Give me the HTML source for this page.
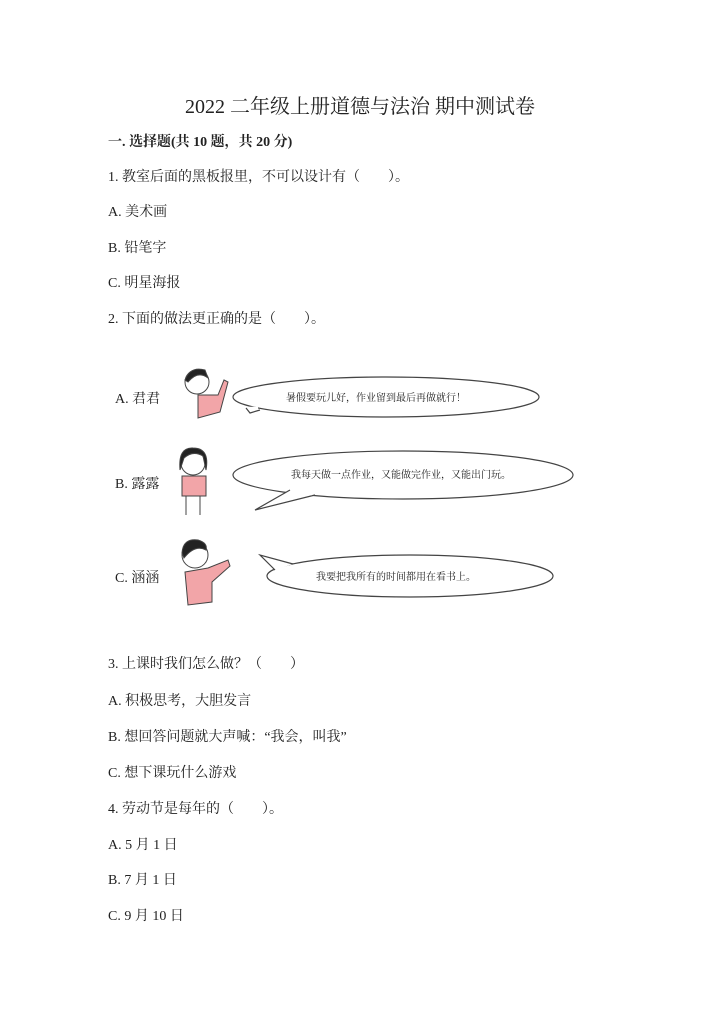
<!DOCTYPE html>
<html><head><meta charset="utf-8"><style>
body{margin:0;background:#fff;}
.p{position:relative;width:720px;height:1018px;font-family:"Liberation Serif","Noto Serif CJK SC",serif;color:#222;}
.t{position:absolute;left:108px;font-size:14px;line-height:16px;white-space:nowrap;}
.h{position:absolute;left:0;width:720px;text-align:center;top:90px;font-size:20px;font-weight:normal;}
</style></head><body><div class="p">
<div class="h">2022 二年级上册道德与法治 期中测试卷</div>
<div class="t" style="top:135px;font-weight:bold;">一. 选择题(共 10 题，共 20 分)</div>
<div class="t" style="top:170px">1. 教室后面的黑板报里，不可以设计有（　　）。</div>
<div class="t" style="top:205px">A. 美术画</div>
<div class="t" style="top:241px">B. 铅笔字</div>
<div class="t" style="top:276px">C. 明星海报</div>
<div class="t" style="top:312px">2. 下面的做法更正确的是（　　）。</div>
<svg style="position:absolute;left:100px;top:350px" width="500" height="280" viewBox="0 0 500 280">
<g font-family="Liberation Serif,Noto Serif CJK SC,serif" fill="#222">
<text x="15" y="53" font-size="14">A. 君君</text>
<text x="15" y="138" font-size="14">B. 露露</text>
<text x="15" y="232" font-size="14">C. 涵涵</text>
</g>
<g stroke="#444" stroke-width="1.2" fill="#fff">
<ellipse cx="286" cy="47" rx="153" ry="20"/>
<path d="M146 58 L 150 63 L 160 60" />
<ellipse cx="303" cy="125" rx="170" ry="24"/>
<path d="M190 140 L 155 160 L 215 145" />
<ellipse cx="310" cy="226" rx="143" ry="21"/>
<path d="M193 214 L 160 205 L 175 220" />
</g>
<g stroke="#fff" stroke-width="2.5" fill="none">
<path d="M149 58 L 158 58"/>
<path d="M193 140 L 212 144"/>
<path d="M170 211 L 180 217"/>
</g>
<g font-family="Liberation Serif,Noto Serif CJK SC,serif" font-size="10" fill="#222">
<text x="186" y="51">暑假要玩儿好，作业留到最后再做就行！</text>
<text x="191" y="128">我每天做一点作业，又能做完作业，又能出门玩。</text>
<text x="216" y="230">我要把我所有的时间都用在看书上。</text>
</g>
<g stroke="#444">
<circle cx="97" cy="32" r="12" fill="#fff"/><path d="M85 30 Q90 16 105 20 L108 28 Q98 20 88 32Z" fill="#222"/>
<path d="M98 45 L118 45 L124 30 L128 32 L120 62 L98 68 Z" fill="#f2a5a8"/>
<circle cx="93" cy="113" r="12" fill="#fff"/><path d="M80 120 Q78 97 93 98 Q110 98 106 120 L103 106 Q93 100 84 108Z" fill="#222"/>
<rect x="82" y="126" width="24" height="20" fill="#f2a5a8"/>
<path d="M86 146 L86 165 M100 146 L100 165" fill="none"/>
<circle cx="95" cy="205" r="13" fill="#fff"/><path d="M82 203 Q83 188 98 190 Q108 193 106 200 Q95 194 84 208Z" fill="#222"/>
<path d="M85 222 L108 218 L128 210 L130 216 L112 232 L112 252 L88 255 Z" fill="#f2a5a8"/>
</g>
</svg>
<div class="t" style="top:657px">3. 上课时我们怎么做？（　　）</div>
<div class="t" style="top:694px">A. 积极思考，大胆发言</div>
<div class="t" style="top:730px">B. 想回答问题就大声喊：“我会，叫我”</div>
<div class="t" style="top:766px">C. 想下课玩什么游戏</div>
<div class="t" style="top:802px">4. 劳动节是每年的（　　）。</div>
<div class="t" style="top:838px">A. 5 月 1 日</div>
<div class="t" style="top:873px">B. 7 月 1 日</div>
<div class="t" style="top:909px">C. 9 月 10 日</div>
</div></body></html>
